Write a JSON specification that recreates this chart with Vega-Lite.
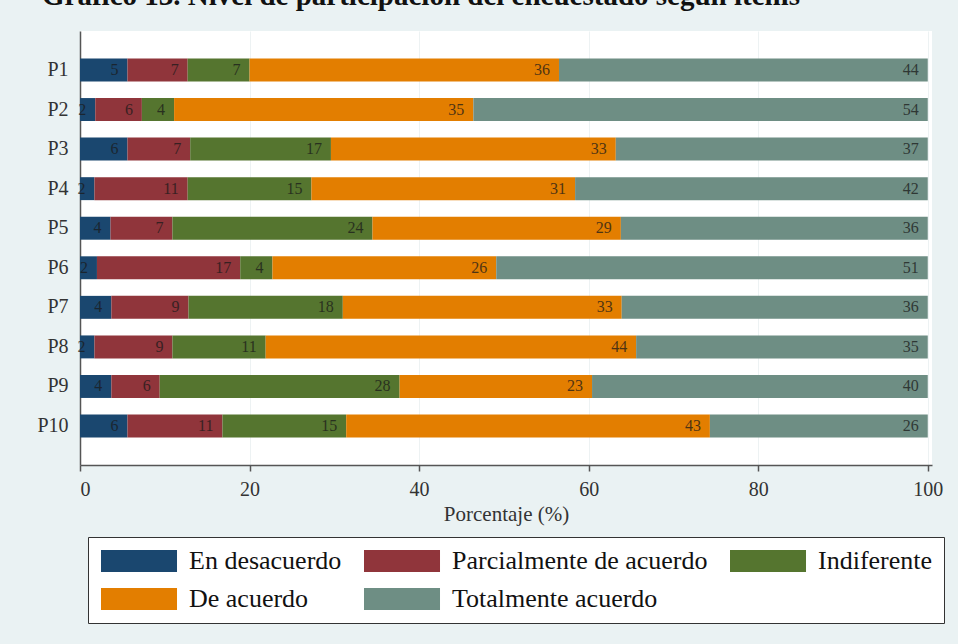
{
  "$schema": "https://vega.github.io/schema/vega-lite/v6.json",
  "autosize": {"type": "none"},
  "width": 852,
  "height": 434,
  "padding": {"left": 80, "top": 31, "right": 26, "bottom": 179},
  "background": "#eaf2f3",
  "title": {
    "text": "Gráfico 13. Nivel de participación del encuestado según ítems",
    "anchor": "start",
    "frame": "group",
    "font": "Liberation Serif",
    "fontSize": 29,
    "fontWeight": "bold",
    "color": "#111111",
    "offset": 20,
    "dx": -38
  },
  "data": {
    "values": [
      {"item": "P1", "cat": "En desacuerdo", "v": 5.6, "label": "5"},
      {"item": "P1", "cat": "Parcialmente de acuerdo", "v": 7.1, "label": "7"},
      {"item": "P1", "cat": "Indiferente", "v": 7.3, "label": "7"},
      {"item": "P1", "cat": "De acuerdo", "v": 36.5, "label": "36"},
      {"item": "P1", "cat": "Totalmente acuerdo", "v": 43.5, "label": "44"},
      {"item": "P2", "cat": "En desacuerdo", "v": 1.8, "label": "2"},
      {"item": "P2", "cat": "Parcialmente de acuerdo", "v": 5.5, "label": "6"},
      {"item": "P2", "cat": "Indiferente", "v": 3.8, "label": "4"},
      {"item": "P2", "cat": "De acuerdo", "v": 35.3, "label": "35"},
      {"item": "P2", "cat": "Totalmente acuerdo", "v": 53.6, "label": "54"},
      {"item": "P3", "cat": "En desacuerdo", "v": 5.6, "label": "6"},
      {"item": "P3", "cat": "Parcialmente de acuerdo", "v": 7.4, "label": "7"},
      {"item": "P3", "cat": "Indiferente", "v": 16.6, "label": "17"},
      {"item": "P3", "cat": "De acuerdo", "v": 33.6, "label": "33"},
      {"item": "P3", "cat": "Totalmente acuerdo", "v": 36.8, "label": "37"},
      {"item": "P4", "cat": "En desacuerdo", "v": 1.7, "label": "2"},
      {"item": "P4", "cat": "Parcialmente de acuerdo", "v": 11.0, "label": "11"},
      {"item": "P4", "cat": "Indiferente", "v": 14.6, "label": "15"},
      {"item": "P4", "cat": "De acuerdo", "v": 31.1, "label": "31"},
      {"item": "P4", "cat": "Totalmente acuerdo", "v": 41.6, "label": "42"},
      {"item": "P5", "cat": "En desacuerdo", "v": 3.6, "label": "4"},
      {"item": "P5", "cat": "Parcialmente de acuerdo", "v": 7.3, "label": "7"},
      {"item": "P5", "cat": "Indiferente", "v": 23.6, "label": "24"},
      {"item": "P5", "cat": "De acuerdo", "v": 29.3, "label": "29"},
      {"item": "P5", "cat": "Totalmente acuerdo", "v": 36.2, "label": "36"},
      {"item": "P6", "cat": "En desacuerdo", "v": 2.0, "label": "2"},
      {"item": "P6", "cat": "Parcialmente de acuerdo", "v": 16.9, "label": "17"},
      {"item": "P6", "cat": "Indiferente", "v": 3.8, "label": "4"},
      {"item": "P6", "cat": "De acuerdo", "v": 26.4, "label": "26"},
      {"item": "P6", "cat": "Totalmente acuerdo", "v": 50.9, "label": "51"},
      {"item": "P7", "cat": "En desacuerdo", "v": 3.7, "label": "4"},
      {"item": "P7", "cat": "Parcialmente de acuerdo", "v": 9.1, "label": "9"},
      {"item": "P7", "cat": "Indiferente", "v": 18.2, "label": "18"},
      {"item": "P7", "cat": "De acuerdo", "v": 32.9, "label": "33"},
      {"item": "P7", "cat": "Totalmente acuerdo", "v": 36.1, "label": "36"},
      {"item": "P8", "cat": "En desacuerdo", "v": 1.7, "label": "2"},
      {"item": "P8", "cat": "Parcialmente de acuerdo", "v": 9.2, "label": "9"},
      {"item": "P8", "cat": "Indiferente", "v": 11.0, "label": "11"},
      {"item": "P8", "cat": "De acuerdo", "v": 43.7, "label": "44"},
      {"item": "P8", "cat": "Totalmente acuerdo", "v": 34.4, "label": "35"},
      {"item": "P9", "cat": "En desacuerdo", "v": 3.7, "label": "4"},
      {"item": "P9", "cat": "Parcialmente de acuerdo", "v": 5.7, "label": "6"},
      {"item": "P9", "cat": "Indiferente", "v": 28.3, "label": "28"},
      {"item": "P9", "cat": "De acuerdo", "v": 22.7, "label": "23"},
      {"item": "P9", "cat": "Totalmente acuerdo", "v": 39.6, "label": "40"},
      {"item": "P10", "cat": "En desacuerdo", "v": 5.6, "label": "6"},
      {"item": "P10", "cat": "Parcialmente de acuerdo", "v": 11.2, "label": "11"},
      {"item": "P10", "cat": "Indiferente", "v": 14.6, "label": "15"},
      {"item": "P10", "cat": "De acuerdo", "v": 42.9, "label": "43"},
      {"item": "P10", "cat": "Totalmente acuerdo", "v": 25.7, "label": "26"}
    ]
  },
  "transform": [
    {"calculate": "indexof(['En desacuerdo','Parcialmente de acuerdo','Indiferente','De acuerdo','Totalmente acuerdo'], datum.cat)", "as": "o"},
    {"stack": "v", "groupby": ["item"], "sort": [{"field": "o", "order": "ascending"}], "as": ["v0", "v1"]}
  ],
  "encoding": {
    "y": {
      "field": "item",
      "type": "nominal",
      "sort": ["P1", "P2", "P3", "P4", "P5", "P6", "P7", "P8", "P9", "P10"],
      "scale": {"paddingInner": 0.42, "paddingOuter": 0.695},
      "axis": {
        "title": null,
        "ticks": false,
        "labelPadding": 12,
        "labelFont": "Liberation Serif",
        "labelFontSize": 20,
        "labelColor": "#333333",
        "domainColor": "#555555",
        "domainWidth": 1.5,
        "grid": false
      }
    }
  },
  "layer": [
    {
      "mark": {"type": "bar"},
      "encoding": {
        "x": {
          "field": "v0",
          "type": "quantitative",
          "scale": {"domain": [0, 100.5], "nice": false},
          "axis": {
            "values": [0, 20, 40, 60, 80, 100],
            "title": "Porcentaje (%)",
            "tickSize": 6,
            "tickColor": "#555555",
            "tickWidth": 1.5,
            "labelPadding": 8,
            "labelFont": "Liberation Serif",
            "labelFontSize": 20,
            "labelColor": "#333333",
            "titleFont": "Liberation Serif",
            "titleFontSize": 21,
            "titleFontWeight": "normal",
            "titleColor": "#333333",
            "titlePadding": 4,
            "grid": true,
            "gridColor": "#edf2f3",
            "domainColor": "#555555",
            "domainWidth": 1.5
          }
        },
        "x2": {"field": "v1"},
        "color": {
          "field": "cat",
          "type": "nominal",
          "sort": ["En desacuerdo", "Parcialmente de acuerdo", "Indiferente", "De acuerdo", "Totalmente acuerdo"],
          "scale": {
            "domain": ["En desacuerdo", "Parcialmente de acuerdo", "Indiferente", "De acuerdo", "Totalmente acuerdo"],
            "range": ["#1a476f", "#90353b", "#55752f", "#e37e00", "#6e8e84"]
          },
          "legend": {
            "orient": "none",
            "direction": "horizontal",
            "legendX": 8,
            "legendY": 506,
            "columns": 3,
            "title": null,
            "symbolType": "M-1,-1H5.91V1H-1Z",
            "symbolSize": 484,
            "symbolStrokeWidth": 0,
            "symbolOpacity": 1,
            "labelOffset": 64,
            "labelFont": "Liberation Serif",
            "labelFontSize": 26,
            "labelColor": "#111111",
            "labelLimit": 400,
            "strokeColor": "#333333",
            "fillColor": "white",
            "padding": 11,
            "columnPadding": 20,
            "rowPadding": 12
          }
        }
      }
    },
    {
      "mark": {"type": "text", "align": "right", "baseline": "middle", "dx": -9, "font": "Liberation Serif", "fontSize": 16, "color": "#1a1a1a", "opacity": 0.75},
      "encoding": {
        "x": {"field": "v1", "type": "quantitative"},
        "text": {"field": "label", "type": "nominal"}
      }
    }
  ],
  "config": {
    "view": {"fill": "white", "stroke": null}
  }
}
